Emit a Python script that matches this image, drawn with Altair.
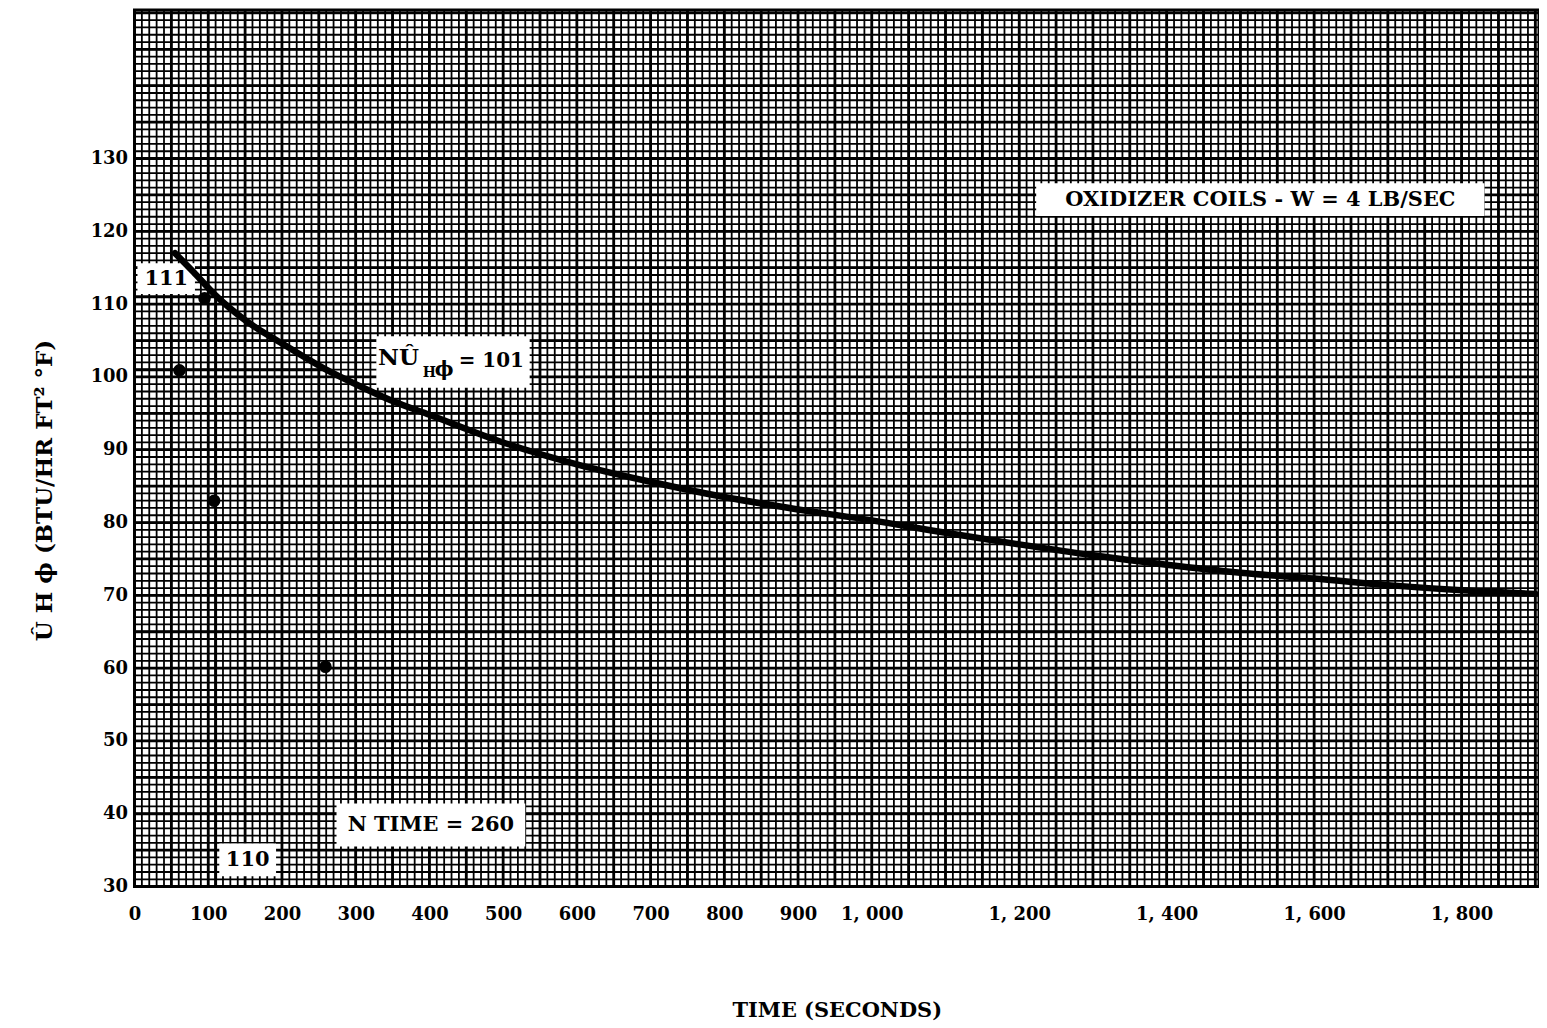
import altair as alt
import pandas as pd

# ---- data ----
curve_time = [55, 80, 110, 150, 200, 260, 300, 350, 400, 500, 600, 700, 800, 900,
              1000, 1100, 1200, 1300, 1400, 1500, 1600, 1700, 1800, 1900]
curve_u = [117.0, 114.4, 111.2, 107.8, 104.6, 101.0, 99.0, 96.7, 94.8, 91.0, 88.0, 85.6,
           83.5, 81.8, 80.3, 78.6, 77.0, 75.5, 74.2, 73.1, 72.3, 71.4, 70.7, 70.2]

dot_time = [61, 95, 108, 259]
dot_u = [100.9, 110.8, 83.0, 60.2]

# reading lines (x, y, x2, y2)
ref_x = [0, 0, 110]
ref_y = [111, 101, 111]
ref_x2 = [110, 260, 110]
ref_y2 = [111, 101, 30]

# annotation labels
box_text = ["111", "110", "N TIME = 260", "OXIDIZER COILS - W = 4 LB/SEC", ""]
box_x1 = [4, 115, 274, 1223, 328]
box_x2 = [82, 192, 530, 1831, 536]
box_y1 = [115.6, 35.9, 41.4, 126.6, 105.6]
box_y2 = [111.4, 31.4, 35.5, 122.1, 98.5]

x_ticks = [0, 100, 200, 300, 400, 500, 600, 700, 800, 900, 1000, 1200, 1400, 1600, 1800]
y_ticks = [30, 40, 50, 60, 70, 80, 90, 100, 110, 120, 130]

X_DOMAIN = [0, 1905]
Y_DOMAIN = [30, 150.4]

# graph-paper rulings
x_fine = list(range(0, 1910, 10))
x_major = list(range(0, 1910, 50))
y_fine = list(range(30, 151))
y_major = list(range(30, 151, 5))

FONT = "DejaVu Serif"

xs = alt.Scale(domain=X_DOMAIN, nice=False, zero=False)
ys = alt.Scale(domain=Y_DOMAIN, nice=False, zero=False)

x_axis = alt.Axis(values=x_ticks, title="TIME  (SECONDS)", ticks=False, tickSize=0,
                  grid=False, domain=False, labelPadding=19, labelFlush=False,
                  labelOverlap=False, labelFont=FONT, labelFontSize=18,
                  labelFontWeight="bold", labelColor="black",
                  labelExpr="datum.value >= 1000 ? replace(format(datum.value, ','), ',', ', ') : datum.label",
                  titleFont=FONT, titleFontSize=21, titleFontWeight="bold",
                  titleColor="black", titleY=124, titleBaseline="middle")
y_axis = alt.Axis(values=y_ticks, title="Û H ϕ  (BTU/HR  FT²  °F)", ticks=False, tickSize=0,
                  grid=False, domain=False, labelPadding=7, labelFlush=False,
                  labelOverlap=False, labelFont=FONT, labelFontSize=18,
                  labelFontWeight="bold", labelColor="black",
                  titleFont=FONT, titleFontSize=23, titleFontWeight="bold",
                  titleColor="black", titleX=-90, titleY=482,
                  titleBaseline="middle", titleAngle=270)


def X(f):
    return alt.X(f, scale=xs, axis=x_axis)


def Y(f):
    return alt.Y(f, scale=ys, axis=y_axis)


def vrules(vals, width):
    return alt.Chart(pd.DataFrame({"v": vals})).mark_rule(
        color="black", strokeWidth=width).encode(x=X("v:Q"))


def hrules(vals, width):
    return alt.Chart(pd.DataFrame({"v": vals})).mark_rule(
        color="black", strokeWidth=width).encode(y=Y("v:Q"))


grid = [
    vrules(x_fine, 1.8),
    hrules(y_fine, 1.8),
    vrules(x_major, 2.8),
    hrules(y_major, 2.8),
]

curve_df = pd.DataFrame({"time": curve_time, "u": curve_u})
curve = alt.Chart(curve_df).mark_line(color="black", strokeWidth=6.5,
                                      interpolate="monotone", strokeCap="round").encode(
    x=X("time:Q"), y=Y("u:Q"))

ref_df = pd.DataFrame({"x": ref_x, "y": ref_y, "x2": ref_x2, "y2": ref_y2})
ref_lines = alt.Chart(ref_df).mark_rule(color="black", strokeWidth=3).encode(
    x=X("x:Q"), x2="x2:Q", y=Y("y:Q"), y2="y2:Q")

dots = alt.Chart(pd.DataFrame({"t": dot_time, "u": dot_u})).mark_point(
    filled=True, shape="circle", size=160, color="black", opacity=1).encode(
    x=X("t:Q"), y=Y("u:Q"))

box_df = pd.DataFrame({"text": box_text, "x1": box_x1, "x2": box_x2,
                       "y1": box_y1, "y2": box_y2})
box_df["xc"] = (box_df["x1"] + box_df["x2"]) / 2
box_df["yc"] = (box_df["y1"] + box_df["y2"]) / 2

boxes = alt.Chart(box_df).mark_rect(color="white", opacity=1).encode(
    x=X("x1:Q"), x2="x2:Q", y=Y("y1:Q"), y2="y2:Q")

box_labels = alt.Chart(box_df).mark_text(font=FONT, fontSize=21, fontWeight="bold",
                                         color="black", baseline="middle", align="center").encode(
    x=X("xc:Q"), y=Y("yc:Q"), text="text:N")

# N Û_Hϕ = 101 label (pieces of one annotation)
nu_parts = ["NÛ", "H", "ϕ", "= 101"]
nu_x = [358, 400, 420, 484]
nu_y = [102.6, 100.5, 101.0, 102.2]
nu_size = [23, 14, 20, 20]
nu_df = pd.DataFrame({"t": nu_parts, "x": nu_x, "y": nu_y, "s": nu_size})
nu_label = alt.Chart(nu_df).mark_text(font=FONT, fontWeight="bold", color="black",
                                      baseline="middle", align="center").encode(
    x=X("x:Q"), y=Y("y:Q"),
    text="t:N", size=alt.Size("s:Q", scale=None, legend=None))

frame = alt.Chart(pd.DataFrame({"a": [0]})).mark_rect(
    fill=None, stroke="black", strokeWidth=3).encode(
    x=alt.value(0), x2=alt.value(1410), y=alt.value(0), y2=alt.value(880))

chart = alt.layer(*grid, boxes, ref_lines, curve, dots, box_labels, nu_label, frame).properties(
    width=1410, height=880,
    autosize=alt.AutoSizeParams(type="none"),
    padding={"left": 127, "top": 0, "right": 0, "bottom": 140},
).configure_view(stroke=None).configure(background="white")

chart.save("out.html", embed_options={"renderer": "svg", "actions": False})
